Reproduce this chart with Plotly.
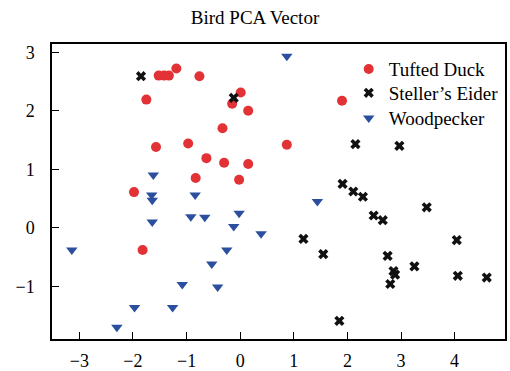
import plotly.graph_objects as go

duck_x = [-1.52, -1.42, -1.33, -1.19, -0.76, -1.75, -1.57, -0.97, -0.83, -1.98, -1.82,
          0.01, -0.15, 0.15, -0.33, 0.87, -0.63, -0.30, 0.15, -0.02, 1.90]
duck_y = [2.60, 2.60, 2.60, 2.72, 2.59, 2.19, 1.38, 1.44, 0.85, 0.61, -0.38,
          2.31, 2.12, 2.00, 1.70, 1.42, 1.19, 1.11, 1.09, 0.82, 2.17]

eider_x = [-1.85, -0.12, 1.91, 2.15, 2.97, 2.11, 2.29, 2.49, 2.66, 3.48, 4.04,
           2.75, 2.86, 2.89, 2.80, 3.25, 4.06, 4.60, 1.85, 1.18, 1.55]
eider_y = [2.59, 2.22, 0.75, 1.43, 1.40, 0.62, 0.53, 0.21, 0.13, 0.35, -0.21,
           -0.48, -0.74, -0.80, -0.96, -0.66, -0.82, -0.85, -1.59, -0.19, -0.45]

wood_x = [-1.62, -1.65, -1.64, -0.84, -1.64, -0.92, -3.14, -1.08, -1.97, -1.26, -2.30,
          -0.66, -0.02, -0.12, 0.39, -0.25, -0.53, -0.42, 1.44, 0.87]
wood_y = [0.90, 0.56, 0.47, 0.56, 0.10, 0.19, -0.38, -0.97, -1.36, -1.36, -1.70,
          0.18, 0.25, 0.02, -0.10, -0.38, -0.62, -1.01, 0.45, 2.93]

x_ticks = [-3, -2, -1, 0, 1, 2, 3, 4]
y_ticks = [-1, 0, 1, 2, 3]

FONT = "Liberation Serif"

fig = go.Figure()
fig.add_trace(go.Scatter(x=duck_x, y=duck_y, mode="markers", name="Tufted Duck",
                         legend="legend",
                         marker=dict(symbol="circle", size=10, color="#e23236")))
fig.add_trace(go.Scatter(x=eider_x, y=eider_y, mode="markers", name="Steller\u2019s Eider",
                         legend="legend2",
                         marker=dict(symbol="x", size=9, color="#111111")))
fig.add_trace(go.Scatter(x=wood_x, y=wood_y, mode="markers", name="Woodpecker",
                         legend="legend3",
                         marker=dict(symbol="triangle-down", size=10, color="#2b4f9e")))

axis_common = dict(showgrid=False, zeroline=False, showline=True, linecolor="black",
                   linewidth=1.5, mirror=True, ticks="inside", ticklen=7,
                   tickcolor="black", tickwidth=1.2, automargin=False,
                   tickfont=dict(family=FONT, size=18, color="black"))

legend_common = dict(xanchor="left", yanchor="middle", x=0.655,
                     bgcolor="rgba(255,255,255,0)", borderwidth=0,
                     font=dict(family=FONT, size=19, color="black"),
                     itemsizing="trace", itemwidth=30)

fig.update_layout(
    width=510, height=371,
    margin=dict(l=52, r=5, t=44, b=32, autoexpand=False),
    paper_bgcolor="white", plot_bgcolor="white",
    title=dict(text="Bird PCA Vector", x=0.5, xanchor="center", y=0.954, yanchor="middle",
               font=dict(family=FONT, size=19, color="black"), automargin=False),
    xaxis=dict(range=[-3.51, 4.94], tickvals=x_ticks, ticklabelstandoff=5, **axis_common),
    yaxis=dict(range=[-1.90, 3.14], tickvals=y_ticks, ticklabelstandoff=12, **axis_common),
    legend=dict(y=0.915, **legend_common),
    legend2=dict(y=0.834, **legend_common),
    legend3=dict(y=0.749, **legend_common),
    showlegend=True,
)

fig.write_html("out.html", config={"displayModeBar": False},
               post_script="document.body.style.margin='0px';document.body.style.overflow='hidden';")
